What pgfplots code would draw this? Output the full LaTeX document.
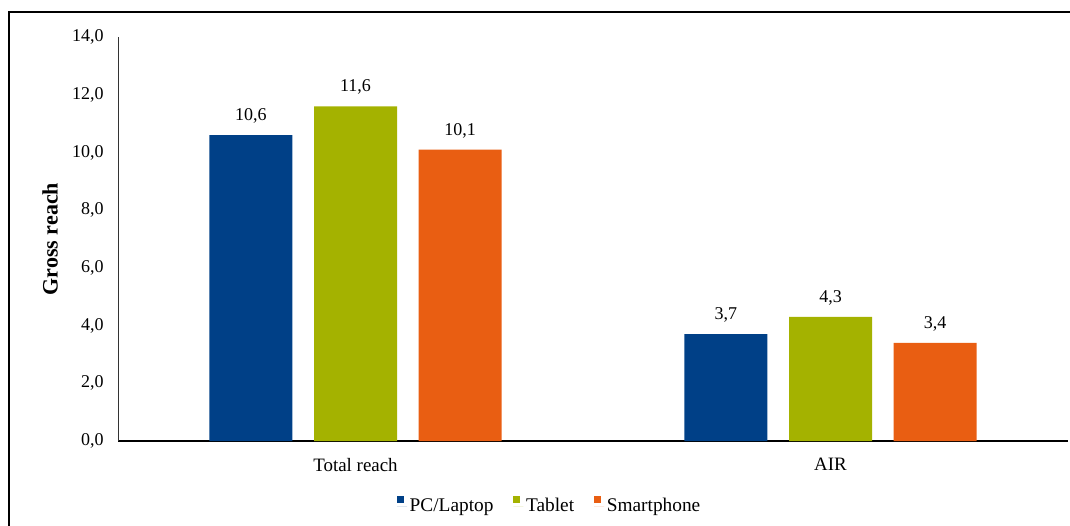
\documentclass[border=0pt]{standalone}
\usepackage{fontspec}
\setmainfont{Liberation Serif}
\usepackage{pgfplots}
\pgfplotsset{compat=1.18}

\definecolor{pcblue}{RGB}{0,64,135}
\definecolor{tabgreen}{RGB}{164,178,0}
\definecolor{smorange}{RGB}{233,94,18}

\begin{document}
\fontsize{13.5}{16}\selectfont
\begin{tikzpicture}[x=0.75pt,y=0.75pt]
\useasboundingbox (0,0) rectangle (1070,525);
% outer frame (left and top edges)
\draw[line width=1.5pt] (8.5,-10) -- (8.5,513) -- (1080,513);
\begin{axis}[
  at={(88.5pt,63pt)}, anchor=south west,
  scale only axis, width=712.5pt, height=303pt,
  xmin=-0.5, xmax=1.5, ymin=0, ymax=14,
  xtick={0,1}, xticklabels={Total reach, AIR},
  ytick={0,2,...,14},
  axis x line*=bottom, axis y line*=left,
  x axis line style={-, line width=1.5pt, black},
  y axis line style={-, line width=0.75pt, black!80},
  major tick length=0pt,
  tick style={draw=none},
  ticklabel style={font=\fontsize{13.5}{16}\selectfont},
  yticklabel style={xshift=-6pt,
    /pgf/number format/.cd, fixed, fixed zerofill, precision=1, use comma, assume math mode=true},
  xticklabel style={yshift=-8pt, font=\fontsize{14.2}{16}\selectfont},
  ylabel={\textbf{Gross reach}},
  ylabel style={at={(axis description cs:-0.0716,0.5)}, anchor=center, font=\fontsize{16.5}{18}\selectfont},
  ybar, bar width=62.25pt,
  nodes near coords,
  every node near coord/.append style={yshift=4pt, font=\fontsize{13.5}{16}\selectfont,
    /pgf/number format/.cd, fixed, fixed zerofill, precision=1, use comma, assume math mode=true},
  legend columns=3,
  legend style={at={(axis description cs:0.4547,-0.161)}, anchor=center, draw=none,
    font=\fontsize{14.5}{16}\selectfont,
    /tikz/every even column/.append style={column sep=13pt}},
  legend image code/.code={%
    \path (0pt,0pt) -- (7.5pt,0pt);
    \fill[#1,draw=none] (0pt,0.15em) rectangle (5.25pt,0.15em+5.25pt);},
]
\addplot[fill=pcblue, draw=none, bar shift=-78.4pt] coordinates {(0,10.6) (1,3.7)};
\addplot[fill=tabgreen, draw=none, bar shift=0pt] coordinates {(0,11.6) (1,4.3)};
\addplot[fill=smorange, draw=none, bar shift=78.4pt] coordinates {(0,10.1) (1,3.4)};
\legend{PC/Laptop, Tablet, Smartphone}
\end{axis}
\end{tikzpicture}
\end{document}
